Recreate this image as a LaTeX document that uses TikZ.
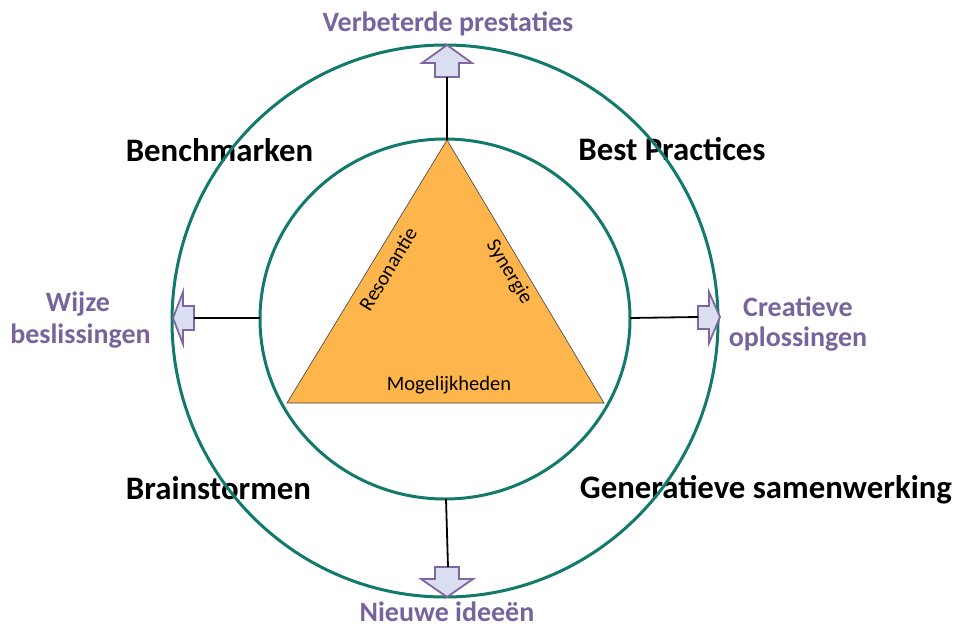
\documentclass[tikz,border=0pt]{standalone}
\usepackage{fontspec}
\setmainfont{Carlito}
\begin{document}
\definecolor{ringteal}{HTML}{127A6A}
\definecolor{labelpurple}{HTML}{77649C}
\definecolor{arrowfill}{HTML}{D9DFF1}
\definecolor{arrowline}{HTML}{8066A0}
\definecolor{triorange}{HTML}{FDB54C}
\begin{tikzpicture}[x=1pt,y=-1pt,
  ring/.style={draw=ringteal, line width=3pt},
  link/.style={draw=black, line width=1.8pt},
  fatarrow/.style={draw=arrowline, fill=arrowfill, line width=1.8pt, line join=miter},
  outcome/.style={text=labelpurple, font=\fontsize{28}{32}\selectfont\bfseries, anchor=base, inner sep=0pt, align=center},
  quadrant/.style={text=black, font=\fontsize{32.8}{36}\selectfont\bfseries, anchor=base, inner sep=0pt},
  edgetext/.style={text=black, font=\fontsize{20.5}{23}\selectfont, inner sep=0pt}]
\useasboundingbox (0,0) rectangle (955,628);

% quadrant labels (the rings are drawn over them)
\node[quadrant] (bench) at (219.5,162) {Benchmarken};
\node[quadrant] (best) at (672,161) {Best Practices};
\node[quadrant] (brain) at (218.5,499) {Brainstormen};
\node[quadrant] (gener) at (766,498.5) {Generatieve samenwerking};

% outcome labels
\node[outcome] (perf) at (448,31.5) {Verbeterde prestaties};
\node[outcome] (wise1) at (78,311.5) {Wijze};
\node[outcome] (wise2) at (80.5,343) {beslissingen};
\node[outcome] (crea1) at (798,316.5) {Creatieve};
\node[outcome] (crea2) at (798,346.5) {oplossingen};
\node[outcome] (ideas) at (447,621.5) {Nieuwe ideeën};

% the two rings
\draw[ring] (445,321) ellipse [x radius=273, y radius=276];
\draw[ring] (445,319) ellipse [x radius=185, y radius=180];

% central triangle
\coordinate (apex) at (447,140);
\coordinate (bl) at (287,403);
\coordinate (br) at (604,403);
\draw[fill=triorange, draw=black!75, line width=0.6pt] (apex) -- (br) -- (bl) -- cycle;
\node[edgetext, rotate=58.7] (reso) at (388,269) {Resonantie};
\node[edgetext, rotate=-58.7] (syn) at (509,272) {Synergie};
\node[edgetext] (moge) at (449,385) {Mogelijkheden};

% block arrows: tip, then head and shaft behind it
\draw[fatarrow] (447,45) -- (472,63) -- (459,63) -- (459,77) -- (435,77) -- (435,63) -- (422,63) -- cycle;
\draw[fatarrow] (447,597) -- (473,579) -- (459,579) -- (459,567) -- (435,567) -- (435,579) -- (421,579) -- cycle;
\draw[fatarrow] (173,318) -- (183,292) -- (183,306) -- (194,306) -- (194,330) -- (183,330) -- (183,344) -- cycle;
\draw[fatarrow] (720,317) -- (709,292) -- (709,306) -- (698,306) -- (698,329) -- (709,329) -- (709,343) -- cycle;

% links from the inner ring to the arrows
\coordinate (topshaft) at (447,77);
\coordinate (botshaft) at (448,567);
\coordinate (botring) at (446,499);
\coordinate (leftshaft) at (194,318);
\coordinate (leftring) at (260,318);
\coordinate (rightshaft) at (698,317);
\coordinate (rightring) at (630,318);
\draw[link] (apex) -- (topshaft);
\draw[link] (botring) -- (botshaft);
\draw[link] (leftring) -- (leftshaft);
\draw[link] (rightring) -- (rightshaft);
\end{tikzpicture}
\end{document}
